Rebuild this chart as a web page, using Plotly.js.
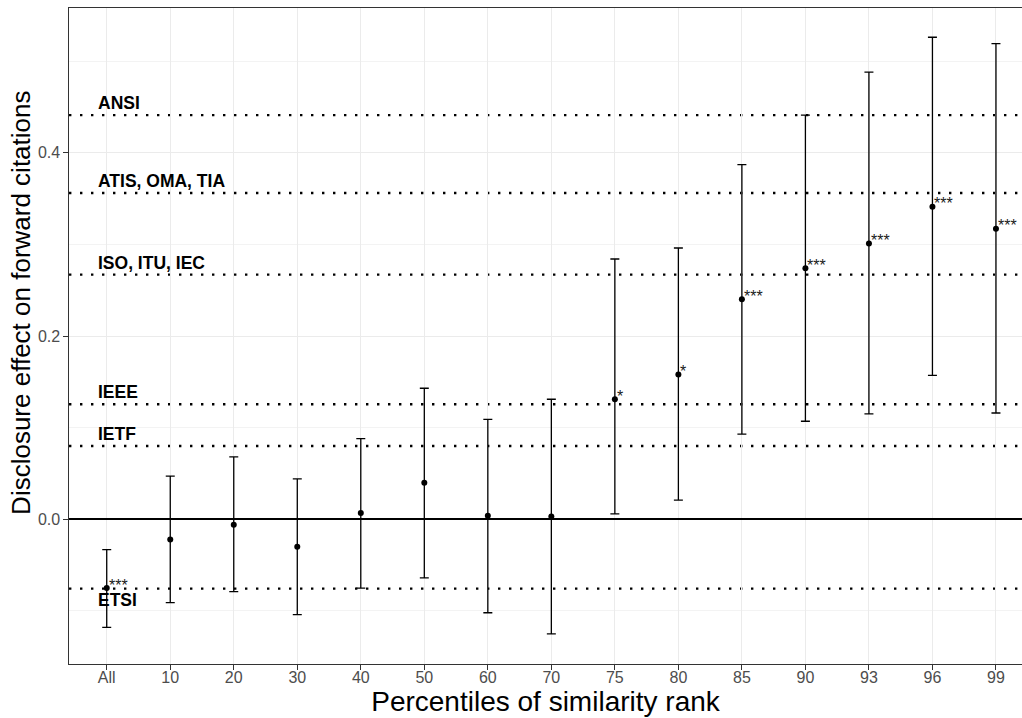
<!DOCTYPE html>
<html><head><meta charset="utf-8">
<script src="https://cdn.plot.ly/plotly-3.0.1.min.js"></script>
<style>html,body{margin:0;padding:0;background:#fff}#chart{width:1022px;height:718px}</style>
</head><body><div id="chart"></div>
<script>
const categories = ['All','10','20','30','40','50','60','70','75','80','85','90','93','96','99'];
const estimates = [-0.075,-0.022,-0.006,-0.030,0.007,0.040,0.004,0.003,0.131,0.158,0.240,0.274,0.301,0.341,0.317];
const lower = [-0.118,-0.091,-0.079,-0.104,-0.075,-0.064,-0.102,-0.125,0.006,0.021,0.093,0.107,0.115,0.157,0.116];
const upper = [-0.033,0.047,0.068,0.044,0.088,0.143,0.109,0.131,0.284,0.296,0.387,0.441,0.488,0.526,0.519];
const significance = ['***','','','','','','','','*','*','***','***','***','***','***'];
const sdoNames = ['ANSI','ATIS, OMA, TIA','ISO, ITU, IEC','IEEE','IETF','ETSI'];
const sdoValues = [0.441,0.356,0.267,0.1255,0.080,-0.0757];
const xTitle = 'Percentiles of similarity rank';
const yTitle = 'Disclosure effect on forward citations';

const FONT = 'Liberation Sans, Arial, Helvetica, sans-serif';

const trace = {
  x: categories,
  y: estimates,
  type: 'scatter',
  mode: 'markers',
  marker: {color: '#000000', size: 6},
  error_y: {
    type: 'data', symmetric: false,
    array: upper.map((u, i) => u - estimates[i]),
    arrayminus: estimates.map((e, i) => e - lower[i]),
    color: '#000000', thickness: 1.3, width: 4.5
  },
  hoverinfo: 'skip',
  showlegend: false
};

const shapes = sdoValues.map(v => ({
  type: 'line', xref: 'paper', x0: 0, x1: 1, yref: 'y', y0: v, y1: v,
  layer: 'between',
  line: {color: '#000000', width: 2.4, dash: '2.4px,8.6px'}
}));

const annotations = [];
sdoNames.forEach((name, i) => {
  const below = sdoValues[i] < 0;
  annotations.push({
    x: -0.17, xref: 'x', y: sdoValues[i], yref: 'y',
    text: '<b>' + name + '</b>', showarrow: false,
    xanchor: 'left', yanchor: below ? 'top' : 'bottom',
    yshift: below ? 1 : 0,
    font: {family: FONT, size: 17.5, color: '#000000'}
  });
});
significance.forEach((s, i) => {
  if (!s) return;
  annotations.push({
    x: i, xref: 'x', y: estimates[i], yref: 'y',
    text: s, showarrow: false, xanchor: 'left', yanchor: 'middle',
    xshift: 0, yshift: 3,
    font: {family: FONT, size: 16, color: '#1a1a1a'}
  });
});
// y-axis title, placed like the reference (slightly above the panel centre)
annotations.push({
  x: -0.0505, xref: 'paper', y: 0.5503, yref: 'paper',
  text: yTitle, showarrow: false, textangle: -90,
  xanchor: 'center', yanchor: 'middle',
  font: {family: FONT, size: 26, color: '#000000'}
});

const layout = {
  width: 1022, height: 718,
  margin: {l: 69.3, r: 0, t: 8, b: 54},
  paper_bgcolor: '#ffffff', plot_bgcolor: '#ffffff',
  font: {family: FONT},
  showlegend: false,
  xaxis: {
    type: 'category', range: [-0.594, 14.41],
    showgrid: true, gridcolor: '#ebebeb', gridwidth: 1,
    showline: true, mirror: true, linecolor: '#333333', linewidth: 1.1,
    ticks: 'outside', ticklen: 4.5, tickcolor: '#333333', tickwidth: 1,
    ticklabelstandoff: -6,
    tickfont: {family: FONT, size: 16, color: '#4d4d4d'},
    zeroline: false,
    title: {text: xTitle, font: {family: FONT, size: 28, color: '#000000'}, standoff: 2}
  },
  yaxis: {
    range: [-0.1579, 0.5579],
    tickvals: [0, 0.2, 0.4], ticktext: ['0.0', '0.2', '0.4'],
    showgrid: true, gridcolor: '#ebebeb', gridwidth: 1,
    minor: {tickvals: [-0.1, 0.1, 0.3, 0.5], showgrid: true, gridcolor: '#ebebeb', gridwidth: 0.6, ticks: ''},
    showline: true, mirror: false, linecolor: '#333333', linewidth: 1.1,
    ticks: 'outside', ticklen: 4.5, tickcolor: '#333333', tickwidth: 1,
    tickfont: {family: FONT, size: 16, color: '#4d4d4d'},
    zeroline: true, zerolinecolor: '#000000', zerolinewidth: 2.4
  },
  shapes: shapes,
  annotations: annotations
};

Plotly.newPlot('chart', [trace], layout, {displayModeBar: false, staticPlot: true});
</script>
</body></html>
